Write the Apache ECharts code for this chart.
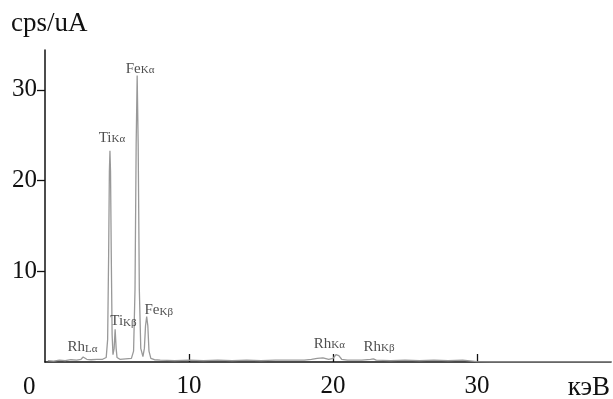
<!DOCTYPE html>
<html>
<head>
<meta charset="utf-8">
<script src="https://cdn.jsdelivr.net/npm/echarts@6/dist/echarts.min.js"></script>
<style>
html,body{margin:0;padding:0;background:#fff;}
#c{width:613px;height:399px;}
</style>
</head>
<body>
<div id="c"></div>
<script>
// Energy (keV) and intensity (cps/uA)
var energy = [0.2,0.6,1.0,1.4,1.8,2.2,2.5,2.65,2.75,2.9,3.2,3.6,4.0,4.25,4.35,4.42,4.47,4.51,4.55,4.6,4.66,4.72,4.8,4.87,4.94,5.0,5.2,5.6,6.0,6.15,6.25,6.33,6.4,6.47,6.55,6.65,6.8,6.9,6.98,7.06,7.14,7.22,7.35,7.6,8.0,9.0,10.0,11.0,12.0,13.0,14.0,15.0,16.0,17.0,18.0,18.5,18.9,19.3,19.7,20.0,20.2,20.4,20.6,21.0,22.0,22.6,22.8,23.0,24.0,25.0,26.0,27.0,28.0,29.0,30.0,31.0,33.0,35.0,37.0,39.3];
var intensity = [0.15,0.1,0.2,0.15,0.25,0.2,0.3,0.55,0.6,0.3,0.25,0.3,0.3,0.5,2.5,12,21,23.3,21,12,3,0.8,1.5,3.6,1.5,0.5,0.3,0.35,0.4,1.2,8,24,31.6,24,8,1.5,0.6,1.5,4,5.0,4,1.2,0.4,0.25,0.2,0.15,0.2,0.15,0.2,0.15,0.2,0.15,0.2,0.2,0.2,0.3,0.4,0.45,0.3,0.4,0.8,0.7,0.3,0.2,0.2,0.3,0.35,0.2,0.15,0.2,0.15,0.2,0.15,0.2,0.05,0.02,0.02,0.02,0.02,0.02];
var yTicks = [10, 20, 30];
var xTicks = [10, 20, 30];
// peak annotations: element, line, energy, height of label centre
var peakElem = ['Fe','Ti','Ti','Fe','Rh','Rh','Rh'];
var peakLine = ['Kα','Kα','Kβ','Kβ','Lα','Kα','Kβ'];
var peakX = [6.6,4.65,5.45,7.9,2.6,19.75,23.2];
var peakY = [32.3,24.7,4.5,5.7,1.6,2.0,1.65];

var spectrum = energy.map(function(e,i){return [e,intensity[i]];});
var notes = peakX.map(function(x,i){return {value:[x,peakY[i]], el:peakElem[i], ln:peakLine[i]};});

var serif = '"Liberation Serif","DejaVu Serif",serif';
var chart = echarts.init(document.getElementById('c'));
chart.setOption({
  animation:false,
  backgroundColor:'#fff',
  grid:{left:45,right:2,top:50,bottom:36},
  xAxis:{
    type:'value',min:0,max:39.3,interval:10,
    axisLine:{lineStyle:{color:'#111',width:1.5}},
    axisTick:{show:true,inside:true,length:8,lineStyle:{color:'#111',width:1.3},
      customValues:xTicks},
    axisLabel:{customValues:xTicks,color:'#111',fontFamily:serif,fontSize:25,margin:12},
    splitLine:{show:false}
  },
  yAxis:{
    type:'value',min:0,max:34.4,interval:10,
    axisLine:{show:true,lineStyle:{color:'#111',width:1.5}},
    axisTick:{show:true,length:8,lineStyle:{color:'#111',width:1.3},customValues:yTicks},
    axisLabel:{customValues:yTicks,color:'#111',fontFamily:serif,fontSize:25,margin:8},
    splitLine:{show:false}
  },
  graphic:[
    {type:'text',left:11,top:10,style:{text:'cps/uA',font:'27px '+serif,fill:'#111'}},
    {type:'text',left:23,top:375,style:{text:'0',font:'25px '+serif,fill:'#111'}},
    {type:'text',right:3,top:374,style:{text:'кэВ',font:'27px '+serif,fill:'#111'}}
  ],
  series:[
    {type:'line',data:spectrum,showSymbol:false,symbol:'none',
     lineStyle:{color:'#999',width:1.3},z:1},
    {type:'scatter',data:notes,symbolSize:0,z:3,
     label:{show:true,position:'inside',
       formatter:function(p){return '{e|'+p.data.el+'}{s|'+p.data.ln+'}';},
       rich:{e:{fontFamily:serif,fontSize:15,color:'#222'},
             s:{fontFamily:serif,fontSize:11,color:'#222',padding:[3,0,0,0]}}}}
  ]
});
</script>
</body>
</html>
